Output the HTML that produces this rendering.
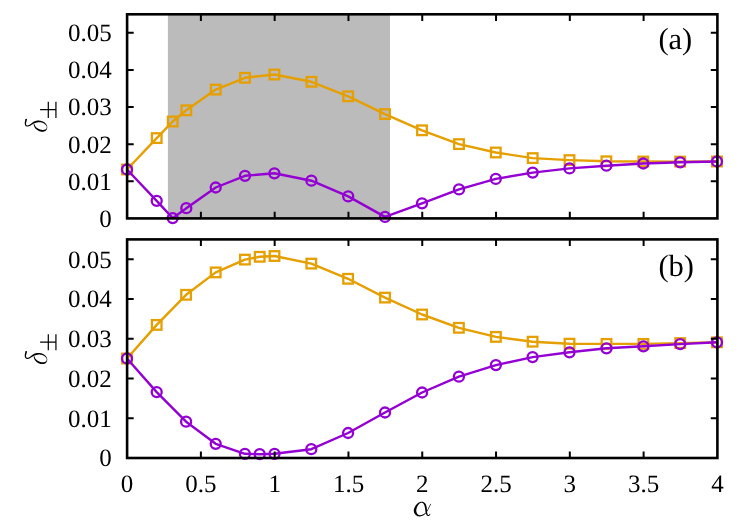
<!DOCTYPE html>
<html><head><meta charset="utf-8"><title>chart</title>
<style>html,body{margin:0;padding:0;background:#fff;}svg{display:block;will-change:transform;}text{font-family:"Liberation Serif",serif;fill:#000;text-rendering:geometricPrecision;}</style>
</head><body>
<svg width="747" height="523" viewBox="0 0 747 523">
<rect x="0" y="0" width="747" height="523" fill="#fff"/>
<rect x="167.9" y="14.3" width="222.1" height="204.1" fill="#bbbbbb"/>
<polyline points="127.0,169.5 156.7,138.1 172.7,121.5 186.3,110.3 215.7,89.6 245.0,77.8 274.4,74.5 311.4,81.8 348.2,96.3 385.0,114.1 422.0,130.3 459.0,144.1 495.8,152.5 532.7,158.1 569.5,160.1 606.4,161.3 643.3,161.5 680.2,161.6 717.0,161.5" fill="none" stroke="#e69f00" stroke-width="2.4" stroke-linejoin="round"/>
<rect x="122.20" y="164.70" width="9.6" height="9.6" fill="none" stroke="#e69f00" stroke-width="2.3"/>
<rect x="151.90" y="133.30" width="9.6" height="9.6" fill="none" stroke="#e69f00" stroke-width="2.3"/>
<rect x="167.90" y="116.70" width="9.6" height="9.6" fill="none" stroke="#e69f00" stroke-width="2.3"/>
<rect x="181.50" y="105.50" width="9.6" height="9.6" fill="none" stroke="#e69f00" stroke-width="2.3"/>
<rect x="210.90" y="84.80" width="9.6" height="9.6" fill="none" stroke="#e69f00" stroke-width="2.3"/>
<rect x="240.20" y="73.00" width="9.6" height="9.6" fill="none" stroke="#e69f00" stroke-width="2.3"/>
<rect x="269.60" y="69.70" width="9.6" height="9.6" fill="none" stroke="#e69f00" stroke-width="2.3"/>
<rect x="306.60" y="77.00" width="9.6" height="9.6" fill="none" stroke="#e69f00" stroke-width="2.3"/>
<rect x="343.40" y="91.50" width="9.6" height="9.6" fill="none" stroke="#e69f00" stroke-width="2.3"/>
<rect x="380.20" y="109.30" width="9.6" height="9.6" fill="none" stroke="#e69f00" stroke-width="2.3"/>
<rect x="417.20" y="125.50" width="9.6" height="9.6" fill="none" stroke="#e69f00" stroke-width="2.3"/>
<rect x="454.20" y="139.30" width="9.6" height="9.6" fill="none" stroke="#e69f00" stroke-width="2.3"/>
<rect x="491.00" y="147.70" width="9.6" height="9.6" fill="none" stroke="#e69f00" stroke-width="2.3"/>
<rect x="527.90" y="153.30" width="9.6" height="9.6" fill="none" stroke="#e69f00" stroke-width="2.3"/>
<rect x="564.70" y="155.30" width="9.6" height="9.6" fill="none" stroke="#e69f00" stroke-width="2.3"/>
<rect x="601.60" y="156.50" width="9.6" height="9.6" fill="none" stroke="#e69f00" stroke-width="2.3"/>
<rect x="638.50" y="156.70" width="9.6" height="9.6" fill="none" stroke="#e69f00" stroke-width="2.3"/>
<rect x="675.40" y="156.80" width="9.6" height="9.6" fill="none" stroke="#e69f00" stroke-width="2.3"/>
<rect x="712.20" y="156.70" width="9.6" height="9.6" fill="none" stroke="#e69f00" stroke-width="2.3"/>
<polyline points="127.0,169.5 156.7,200.8 172.7,218.1 186.3,208.2 215.7,187.5 245.0,175.8 274.4,173.3 311.4,180.7 348.2,196.4 385.0,216.9 422.0,203.3 459.0,189.4 495.8,178.9 532.7,172.6 569.5,168.4 606.4,165.7 643.3,163.5 680.2,162.3 717.0,161.5" fill="none" stroke="#9400d3" stroke-width="2.4" stroke-linejoin="round"/>
<circle cx="127.00" cy="169.50" r="5.0" fill="none" stroke="#9400d3" stroke-width="2.3"/>
<circle cx="156.70" cy="200.80" r="5.0" fill="none" stroke="#9400d3" stroke-width="2.3"/>
<circle cx="172.70" cy="218.10" r="5.0" fill="none" stroke="#9400d3" stroke-width="2.3"/>
<circle cx="186.30" cy="208.20" r="5.0" fill="none" stroke="#9400d3" stroke-width="2.3"/>
<circle cx="215.70" cy="187.50" r="5.0" fill="none" stroke="#9400d3" stroke-width="2.3"/>
<circle cx="245.00" cy="175.80" r="5.0" fill="none" stroke="#9400d3" stroke-width="2.3"/>
<circle cx="274.40" cy="173.30" r="5.0" fill="none" stroke="#9400d3" stroke-width="2.3"/>
<circle cx="311.40" cy="180.70" r="5.0" fill="none" stroke="#9400d3" stroke-width="2.3"/>
<circle cx="348.20" cy="196.40" r="5.0" fill="none" stroke="#9400d3" stroke-width="2.3"/>
<circle cx="385.00" cy="216.90" r="5.0" fill="none" stroke="#9400d3" stroke-width="2.3"/>
<circle cx="422.00" cy="203.30" r="5.0" fill="none" stroke="#9400d3" stroke-width="2.3"/>
<circle cx="459.00" cy="189.40" r="5.0" fill="none" stroke="#9400d3" stroke-width="2.3"/>
<circle cx="495.80" cy="178.90" r="5.0" fill="none" stroke="#9400d3" stroke-width="2.3"/>
<circle cx="532.70" cy="172.60" r="5.0" fill="none" stroke="#9400d3" stroke-width="2.3"/>
<circle cx="569.50" cy="168.40" r="5.0" fill="none" stroke="#9400d3" stroke-width="2.3"/>
<circle cx="606.40" cy="165.70" r="5.0" fill="none" stroke="#9400d3" stroke-width="2.3"/>
<circle cx="643.30" cy="163.50" r="5.0" fill="none" stroke="#9400d3" stroke-width="2.3"/>
<circle cx="680.20" cy="162.30" r="5.0" fill="none" stroke="#9400d3" stroke-width="2.3"/>
<circle cx="717.00" cy="161.50" r="5.0" fill="none" stroke="#9400d3" stroke-width="2.3"/>
<path d="M127.1,181.29h6.6 M717.4,181.29h-6.6 M127.1,144.18h6.6 M717.4,144.18h-6.6 M127.1,107.07h6.6 M717.4,107.07h-6.6 M127.1,69.96h6.6 M717.4,69.96h-6.6 M127.1,32.85h6.6 M717.4,32.85h-6.6 M200.89,218.4v-6.6 M200.89,14.3v6.6 M274.67,218.4v-6.6 M274.67,14.3v6.6 M348.46,218.4v-6.6 M348.46,14.3v6.6 M422.25,218.4v-6.6 M422.25,14.3v6.6 M496.04,218.4v-6.6 M496.04,14.3v6.6 M569.82,218.4v-6.6 M569.82,14.3v6.6 M643.61,218.4v-6.6 M643.61,14.3v6.6" fill="none" stroke="#000" stroke-width="2.0"/>
<rect x="127.1" y="14.3" width="590.3" height="204.1" fill="none" stroke="#000" stroke-width="2.6"/>
<text x="111.7" y="226.7" font-size="25" text-anchor="end">0</text>
<text x="111.7" y="189.6" font-size="25" text-anchor="end">0.01</text>
<text x="111.7" y="152.5" font-size="25" text-anchor="end">0.02</text>
<text x="111.7" y="115.4" font-size="25" text-anchor="end">0.03</text>
<text x="111.7" y="78.3" font-size="25" text-anchor="end">0.04</text>
<text x="111.7" y="41.2" font-size="25" text-anchor="end">0.05</text>
<text x="658.4" y="48.5" font-size="30.5">(a)</text>
<polyline points="127.0,358.5 156.7,324.9 186.1,294.8 215.7,272.4 244.9,259.6 259.7,256.8 274.5,256.0 311.3,263.6 348.1,278.8 385.0,297.6 422.1,314.5 458.9,327.8 495.9,336.9 532.6,341.7 569.5,343.7 606.5,343.9 643.4,343.9 680.2,343.1 717.0,342.3" fill="none" stroke="#e69f00" stroke-width="2.4" stroke-linejoin="round"/>
<rect x="122.20" y="353.70" width="9.6" height="9.6" fill="none" stroke="#e69f00" stroke-width="2.3"/>
<rect x="151.90" y="320.10" width="9.6" height="9.6" fill="none" stroke="#e69f00" stroke-width="2.3"/>
<rect x="181.30" y="290.00" width="9.6" height="9.6" fill="none" stroke="#e69f00" stroke-width="2.3"/>
<rect x="210.90" y="267.60" width="9.6" height="9.6" fill="none" stroke="#e69f00" stroke-width="2.3"/>
<rect x="240.10" y="254.80" width="9.6" height="9.6" fill="none" stroke="#e69f00" stroke-width="2.3"/>
<rect x="254.90" y="252.00" width="9.6" height="9.6" fill="none" stroke="#e69f00" stroke-width="2.3"/>
<rect x="269.70" y="251.20" width="9.6" height="9.6" fill="none" stroke="#e69f00" stroke-width="2.3"/>
<rect x="306.50" y="258.80" width="9.6" height="9.6" fill="none" stroke="#e69f00" stroke-width="2.3"/>
<rect x="343.30" y="274.00" width="9.6" height="9.6" fill="none" stroke="#e69f00" stroke-width="2.3"/>
<rect x="380.20" y="292.80" width="9.6" height="9.6" fill="none" stroke="#e69f00" stroke-width="2.3"/>
<rect x="417.30" y="309.70" width="9.6" height="9.6" fill="none" stroke="#e69f00" stroke-width="2.3"/>
<rect x="454.10" y="323.00" width="9.6" height="9.6" fill="none" stroke="#e69f00" stroke-width="2.3"/>
<rect x="491.10" y="332.10" width="9.6" height="9.6" fill="none" stroke="#e69f00" stroke-width="2.3"/>
<rect x="527.80" y="336.90" width="9.6" height="9.6" fill="none" stroke="#e69f00" stroke-width="2.3"/>
<rect x="564.70" y="338.90" width="9.6" height="9.6" fill="none" stroke="#e69f00" stroke-width="2.3"/>
<rect x="601.70" y="339.10" width="9.6" height="9.6" fill="none" stroke="#e69f00" stroke-width="2.3"/>
<rect x="638.60" y="339.10" width="9.6" height="9.6" fill="none" stroke="#e69f00" stroke-width="2.3"/>
<rect x="675.40" y="338.30" width="9.6" height="9.6" fill="none" stroke="#e69f00" stroke-width="2.3"/>
<rect x="712.20" y="337.50" width="9.6" height="9.6" fill="none" stroke="#e69f00" stroke-width="2.3"/>
<polyline points="127.0,358.5 156.7,392.1 186.1,421.7 215.7,443.8 244.9,453.8 259.7,454.2 274.5,453.8 311.3,449.2 348.1,433.0 385.0,412.5 422.1,392.5 458.9,376.7 495.9,365.1 532.6,357.1 569.5,352.3 606.5,348.3 643.4,346.3 680.2,344.1 717.0,342.3" fill="none" stroke="#9400d3" stroke-width="2.4" stroke-linejoin="round"/>
<circle cx="127.00" cy="358.50" r="5.0" fill="none" stroke="#9400d3" stroke-width="2.3"/>
<circle cx="156.70" cy="392.10" r="5.0" fill="none" stroke="#9400d3" stroke-width="2.3"/>
<circle cx="186.10" cy="421.70" r="5.0" fill="none" stroke="#9400d3" stroke-width="2.3"/>
<circle cx="215.70" cy="443.80" r="5.0" fill="none" stroke="#9400d3" stroke-width="2.3"/>
<circle cx="244.90" cy="453.80" r="5.0" fill="none" stroke="#9400d3" stroke-width="2.3"/>
<circle cx="259.70" cy="454.20" r="5.0" fill="none" stroke="#9400d3" stroke-width="2.3"/>
<circle cx="274.50" cy="453.80" r="5.0" fill="none" stroke="#9400d3" stroke-width="2.3"/>
<circle cx="311.30" cy="449.20" r="5.0" fill="none" stroke="#9400d3" stroke-width="2.3"/>
<circle cx="348.10" cy="433.00" r="5.0" fill="none" stroke="#9400d3" stroke-width="2.3"/>
<circle cx="385.00" cy="412.50" r="5.0" fill="none" stroke="#9400d3" stroke-width="2.3"/>
<circle cx="422.10" cy="392.50" r="5.0" fill="none" stroke="#9400d3" stroke-width="2.3"/>
<circle cx="458.90" cy="376.70" r="5.0" fill="none" stroke="#9400d3" stroke-width="2.3"/>
<circle cx="495.90" cy="365.10" r="5.0" fill="none" stroke="#9400d3" stroke-width="2.3"/>
<circle cx="532.60" cy="357.10" r="5.0" fill="none" stroke="#9400d3" stroke-width="2.3"/>
<circle cx="569.50" cy="352.30" r="5.0" fill="none" stroke="#9400d3" stroke-width="2.3"/>
<circle cx="606.50" cy="348.30" r="5.0" fill="none" stroke="#9400d3" stroke-width="2.3"/>
<circle cx="643.40" cy="346.30" r="5.0" fill="none" stroke="#9400d3" stroke-width="2.3"/>
<circle cx="680.20" cy="344.10" r="5.0" fill="none" stroke="#9400d3" stroke-width="2.3"/>
<circle cx="717.00" cy="342.30" r="5.0" fill="none" stroke="#9400d3" stroke-width="2.3"/>
<path d="M127.1,418.25h6.6 M717.4,418.25h-6.6 M127.1,378.51h6.6 M717.4,378.51h-6.6 M127.1,338.76h6.6 M717.4,338.76h-6.6 M127.1,299.02h6.6 M717.4,299.02h-6.6 M127.1,259.27h6.6 M717.4,259.27h-6.6 M200.89,458.0v-6.6 M200.89,239.4v6.6 M274.67,458.0v-6.6 M274.67,239.4v6.6 M348.46,458.0v-6.6 M348.46,239.4v6.6 M422.25,458.0v-6.6 M422.25,239.4v6.6 M496.04,458.0v-6.6 M496.04,239.4v6.6 M569.82,458.0v-6.6 M569.82,239.4v6.6 M643.61,458.0v-6.6 M643.61,239.4v6.6" fill="none" stroke="#000" stroke-width="2.0"/>
<rect x="127.1" y="239.4" width="590.3" height="218.6" fill="none" stroke="#000" stroke-width="2.6"/>
<text x="111.7" y="466.3" font-size="25" text-anchor="end">0</text>
<text x="111.7" y="426.6" font-size="25" text-anchor="end">0.01</text>
<text x="111.7" y="386.8" font-size="25" text-anchor="end">0.02</text>
<text x="111.7" y="347.1" font-size="25" text-anchor="end">0.03</text>
<text x="111.7" y="307.3" font-size="25" text-anchor="end">0.04</text>
<text x="111.7" y="267.6" font-size="25" text-anchor="end">0.05</text>
<text x="658.4" y="276.0" font-size="30.5">(b)</text>
<text x="127.1" y="491.8" font-size="25" text-anchor="middle">0</text>
<text x="200.9" y="491.8" font-size="25" text-anchor="middle">0.5</text>
<text x="274.7" y="491.8" font-size="25" text-anchor="middle">1</text>
<text x="348.5" y="491.8" font-size="25" text-anchor="middle">1.5</text>
<text x="422.2" y="491.8" font-size="25" text-anchor="middle">2</text>
<text x="496.0" y="491.8" font-size="25" text-anchor="middle">2.5</text>
<text x="569.8" y="491.8" font-size="25" text-anchor="middle">3</text>
<text x="643.6" y="491.8" font-size="25" text-anchor="middle">3.5</text>
<text x="717.4" y="491.8" font-size="25" text-anchor="middle">4</text>
<g role="img" aria-label="δ±">
<title>δ±</title>
<path transform="translate(22,115.00) scale(0.04016)" fill="#000" fill-rule="nonzero" d="M85,106 L84,111 L82,119 L80,127 L78,137 L75,147 L74,156 L72,165 L71,174 L69,185 L68,195 L68,206 L68,216 L70,226 L72,236 L75,246 L78,255 L83,264 L89,272 L97,278 L105,283 L114,286 L123,288 L132,289 L141,289 L150,288 L160,286 L169,283 L179,279 L188,275 L197,271 L206,266 L215,261 L224,255 L232,249 L241,243 L249,238 L258,233 L267,228 L275,223 L284,218 L292,214 L300,210 L307,207 L315,204 L323,201 L330,199 L338,197 L347,194 L355,192 L365,189 L374,187 L383,185 L393,183 L402,182 L411,181 L420,180 L429,180 L438,180 L448,181 L457,182 L467,183 L476,184 L486,186 L496,189 L505,192 L514,195 L522,198 L530,202 L538,207 L546,212 L554,217 L562,222 L569,228 L576,233 L583,240 L590,246 L596,253 L601,259 L605,266 L609,272 L612,279 L614,286 L615,293 L615,300 L615,307 L615,315 L613,322 L611,329 L608,335 L604,341 L600,346 L595,350 L589,354 L583,358 L577,361 L571,363 L565,365 L558,367 L551,369 L543,370 L536,371 L528,371 L519,372 L511,371 L502,371 L493,370 L484,369 L475,367 L466,365 L457,363 L447,360 L438,356 L429,352 L420,349 L411,345 L403,340 L395,336 L387,331 L379,326 L372,321 L366,316 L359,310 L353,305 L347,299 L342,293 L337,287 L333,281 L329,274 L325,267 L322,259 L319,252 L316,246 L314,241 L312,237 L311,233 L310,230 L309,226 L309,224 L291,226 L291,229 L291,232 L291,236 L292,241 L293,247 L294,254 L296,261 L298,268 L301,277 L305,285 L308,294 L313,303 L317,311 L323,319 L328,327 L334,334 L341,342 L348,349 L355,356 L364,363 L372,370 L381,376 L391,382 L400,387 L410,393 L421,398 L431,402 L443,406 L454,410 L465,413 L477,415 L488,416 L500,417 L511,417 L522,416 L532,415 L543,413 L553,410 L562,407 L572,403 L581,398 L589,393 L596,387 L602,380 L608,372 L612,365 L616,357 L620,349 L623,341 L625,333 L627,325 L628,316 L629,308 L629,300 L628,292 L626,284 L624,275 L622,267 L619,259 L615,251 L610,243 L605,234 L599,226 L593,217 L586,210 L578,202 L571,195 L563,188 L554,182 L545,176 L536,171 L526,165 L516,161 L506,157 L495,153 L484,150 L474,147 L463,144 L452,142 L442,141 L431,139 L420,138 L409,138 L398,138 L387,139 L376,140 L365,142 L354,144 L343,147 L333,150 L324,153 L315,156 L306,160 L298,164 L289,169 L280,174 L272,180 L263,186 L255,193 L247,199 L239,206 L231,212 L223,218 L215,224 L206,230 L199,236 L191,241 L183,245 L175,249 L167,253 L159,256 L152,258 L145,260 L139,261 L133,261 L127,260 L122,259 L117,257 L114,255 L111,252 L108,248 L106,243 L103,237 L102,229 L100,221 L100,214 L100,207 L101,199 L103,191 L106,182 L108,173 L110,164 L113,156 L115,147 L118,138 L121,130 L123,123 L125,118Z M84.7,112.0a20.3,20.3 0 1,0 40.6,0a20.3,20.3 0 1,0 -40.6,0Z M291.3,225.0a8.7,8.7 0 1,0 17.4,0a8.7,8.7 0 1,0 -17.4,0Z"/>
<path transform="translate(20,95.00) scale(0.08039)" fill="none" stroke="#000" stroke-width="15" d="M250,183 H447 M352,85 V285 M447,85 V285"/>
</g>
<g role="img" aria-label="δ±">
<title>δ±</title>
<path transform="translate(22,347.35) scale(0.04016)" fill="#000" fill-rule="nonzero" d="M85,106 L84,111 L82,119 L80,127 L78,137 L75,147 L74,156 L72,165 L71,174 L69,185 L68,195 L68,206 L68,216 L70,226 L72,236 L75,246 L78,255 L83,264 L89,272 L97,278 L105,283 L114,286 L123,288 L132,289 L141,289 L150,288 L160,286 L169,283 L179,279 L188,275 L197,271 L206,266 L215,261 L224,255 L232,249 L241,243 L249,238 L258,233 L267,228 L275,223 L284,218 L292,214 L300,210 L307,207 L315,204 L323,201 L330,199 L338,197 L347,194 L355,192 L365,189 L374,187 L383,185 L393,183 L402,182 L411,181 L420,180 L429,180 L438,180 L448,181 L457,182 L467,183 L476,184 L486,186 L496,189 L505,192 L514,195 L522,198 L530,202 L538,207 L546,212 L554,217 L562,222 L569,228 L576,233 L583,240 L590,246 L596,253 L601,259 L605,266 L609,272 L612,279 L614,286 L615,293 L615,300 L615,307 L615,315 L613,322 L611,329 L608,335 L604,341 L600,346 L595,350 L589,354 L583,358 L577,361 L571,363 L565,365 L558,367 L551,369 L543,370 L536,371 L528,371 L519,372 L511,371 L502,371 L493,370 L484,369 L475,367 L466,365 L457,363 L447,360 L438,356 L429,352 L420,349 L411,345 L403,340 L395,336 L387,331 L379,326 L372,321 L366,316 L359,310 L353,305 L347,299 L342,293 L337,287 L333,281 L329,274 L325,267 L322,259 L319,252 L316,246 L314,241 L312,237 L311,233 L310,230 L309,226 L309,224 L291,226 L291,229 L291,232 L291,236 L292,241 L293,247 L294,254 L296,261 L298,268 L301,277 L305,285 L308,294 L313,303 L317,311 L323,319 L328,327 L334,334 L341,342 L348,349 L355,356 L364,363 L372,370 L381,376 L391,382 L400,387 L410,393 L421,398 L431,402 L443,406 L454,410 L465,413 L477,415 L488,416 L500,417 L511,417 L522,416 L532,415 L543,413 L553,410 L562,407 L572,403 L581,398 L589,393 L596,387 L602,380 L608,372 L612,365 L616,357 L620,349 L623,341 L625,333 L627,325 L628,316 L629,308 L629,300 L628,292 L626,284 L624,275 L622,267 L619,259 L615,251 L610,243 L605,234 L599,226 L593,217 L586,210 L578,202 L571,195 L563,188 L554,182 L545,176 L536,171 L526,165 L516,161 L506,157 L495,153 L484,150 L474,147 L463,144 L452,142 L442,141 L431,139 L420,138 L409,138 L398,138 L387,139 L376,140 L365,142 L354,144 L343,147 L333,150 L324,153 L315,156 L306,160 L298,164 L289,169 L280,174 L272,180 L263,186 L255,193 L247,199 L239,206 L231,212 L223,218 L215,224 L206,230 L199,236 L191,241 L183,245 L175,249 L167,253 L159,256 L152,258 L145,260 L139,261 L133,261 L127,260 L122,259 L117,257 L114,255 L111,252 L108,248 L106,243 L103,237 L102,229 L100,221 L100,214 L100,207 L101,199 L103,191 L106,182 L108,173 L110,164 L113,156 L115,147 L118,138 L121,130 L123,123 L125,118Z M84.7,112.0a20.3,20.3 0 1,0 40.6,0a20.3,20.3 0 1,0 -40.6,0Z M291.3,225.0a8.7,8.7 0 1,0 17.4,0a8.7,8.7 0 1,0 -17.4,0Z"/>
<path transform="translate(20,327.35) scale(0.08039)" fill="none" stroke="#000" stroke-width="15" d="M250,183 H447 M352,85 V285 M447,85 V285"/>
</g>
<g role="img" aria-label="α">
<title>α</title>
<path transform="translate(408,498) scale(0.04016)" fill="#000" fill-rule="nonzero" d="M558,147 L556,152 L552,159 L548,168 L543,177 L538,187 L533,197 L529,206 L524,216 L519,226 L513,236 L508,247 L503,257 L498,267 L494,276 L489,286 L484,296 L479,305 L474,314 L468,323 L461,332 L455,341 L448,350 L441,358 L434,366 L426,373 L418,380 L410,386 L402,392 L393,397 L384,402 L375,407 L365,412 L355,416 L345,419 L336,422 L326,425 L318,426 L309,428 L301,428 L293,428 L285,428 L278,426 L270,424 L263,420 L256,417 L250,412 L244,407 L239,402 L234,397 L230,391 L226,384 L222,377 L219,369 L216,362 L213,355 L211,348 L209,340 L208,333 L207,326 L206,319 L206,312 L206,304 L207,296 L208,287 L210,278 L212,269 L215,259 L218,249 L222,238 L226,228 L230,217 L235,208 L240,198 L246,188 L252,178 L259,169 L265,161 L272,153 L278,146 L285,140 L293,135 L301,129 L308,125 L315,122 L320,119 L325,117 L330,117 L334,116 L338,117 L344,117 L350,119 L355,120 L361,122 L366,125 L371,128 L376,131 L380,136 L385,142 L389,148 L394,155 L398,163 L401,170 L404,178 L408,186 L410,195 L413,205 L416,215 L418,225 L420,235 L422,246 L424,257 L425,269 L427,281 L429,292 L431,304 L432,316 L433,328 L435,340 L437,352 L440,364 L442,374 L446,385 L449,395 L453,405 L457,414 L462,422 L467,429 L472,435 L478,441 L484,445 L490,448 L497,450 L505,451 L512,450 L519,447 L525,444 L530,441 L535,437 L540,431 L544,425 L548,419 L551,413 L554,408 L555,405 L541,395 L538,399 L535,403 L531,408 L528,413 L524,417 L521,419 L517,422 L514,424 L510,425 L507,426 L504,426 L503,426 L501,425 L499,423 L496,420 L493,417 L491,413 L488,408 L486,402 L484,394 L482,386 L480,376 L478,366 L476,356 L475,346 L474,336 L474,324 L473,312 L472,300 L471,288 L470,276 L469,264 L468,252 L466,239 L464,227 L462,215 L459,204 L456,193 L453,181 L449,171 L444,160 L439,150 L433,141 L426,132 L418,124 L411,117 L403,110 L394,105 L386,100 L377,97 L369,95 L361,94 L353,93 L346,93 L340,92 L333,92 L327,93 L320,94 L313,96 L305,98 L297,101 L288,105 L278,109 L268,114 L258,120 L248,127 L239,135 L229,143 L220,152 L211,162 L203,172 L195,182 L187,193 L180,205 L174,216 L168,228 L162,240 L158,251 L154,262 L150,274 L147,285 L145,297 L144,309 L144,321 L145,333 L147,345 L150,357 L154,368 L159,378 L164,388 L170,397 L177,407 L185,415 L193,423 L202,431 L211,438 L221,443 L231,448 L241,452 L252,455 L262,457 L272,458 L283,459 L293,459 L303,458 L313,456 L323,454 L334,451 L344,448 L355,444 L365,439 L376,433 L386,428 L396,422 L405,415 L414,409 L422,401 L431,394 L439,386 L446,378 L454,369 L461,360 L468,351 L474,341 L480,332 L486,322 L492,312 L497,302 L502,293 L507,283 L512,273 L517,263 L522,253 L527,243 L532,233 L537,223 L542,213 L547,203 L551,194 L556,184 L561,175 L565,166 L569,159 L572,153Z M557.5,150.0a7.5,7.5 0 1,0 15.0,0a7.5,7.5 0 1,0 -15.0,0Z M539.2,400.0a8.8,8.8 0 1,0 17.5,0a8.8,8.8 0 1,0 -17.5,0Z"/>
</g>
</svg></body></html>
